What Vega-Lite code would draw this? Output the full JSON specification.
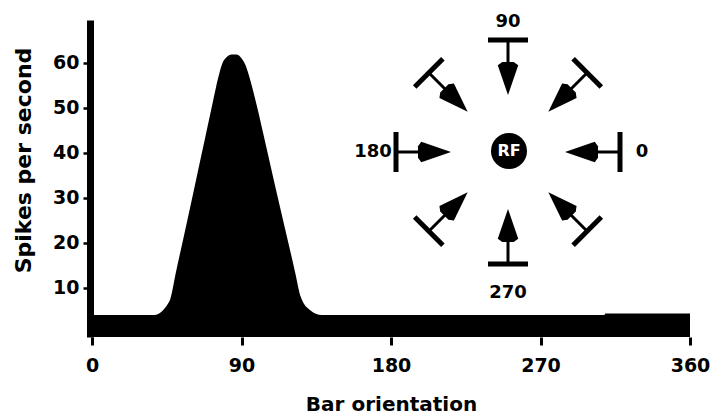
{
  "$schema": "https://vega.github.io/schema/vega-lite/v6.json",
  "width": 598,
  "height": 317,
  "autosize": {"type": "none"},
  "padding": {"left": 92, "top": 20, "right": 24, "bottom": 81},
  "background": "white",
  "config": {"view": {"stroke": null}, "font": "DejaVu Sans"},
  "datasets": {
    "curve": [
      {"deg": 0, "rate": 3.9}, {"deg": 37.9, "rate": 3.9}, {"deg": 42.9, "rate": 5.0},
      {"deg": 45.9, "rate": 6.5}, {"deg": 47, "rate": 7.3}, {"deg": 50.4, "rate": 13.2},
      {"deg": 54.8, "rate": 20.6}, {"deg": 59.2, "rate": 28}, {"deg": 63.5, "rate": 35.4},
      {"deg": 67.9, "rate": 42.9}, {"deg": 72.2, "rate": 50.3}, {"deg": 76.2, "rate": 57.0},
      {"deg": 78.5, "rate": 59.9}, {"deg": 81, "rate": 61.2}, {"deg": 84, "rate": 61.8},
      {"deg": 87, "rate": 61.8}, {"deg": 90, "rate": 61.0}, {"deg": 92.5, "rate": 59.4},
      {"deg": 95.1, "rate": 56.4},
      {"deg": 99.3, "rate": 50.3}, {"deg": 103.9, "rate": 42.9}, {"deg": 108.5, "rate": 35.4},
      {"deg": 113.1, "rate": 28}, {"deg": 117.8, "rate": 20.6}, {"deg": 122.4, "rate": 13.2},
      {"deg": 125.6, "rate": 8.0}, {"deg": 131.2, "rate": 5.0}, {"deg": 138.3, "rate": 3.9},
      {"deg": 308.5, "rate": 3.9}, {"deg": 309, "rate": 4.2}, {"deg": 360, "rate": 4.2}
    ],
    "arrows": [
      {"ori": 0, "bx1": 112, "by1": -20, "bx2": 112, "by2": 20, "bx": 112, "by": 0, "sx": 88, "sy": 0, "hx": 73.5, "hy": 0},
      {"ori": 45, "bx1": 65.1, "by1": 93.3, "bx2": 93.3, "by2": 65.1, "bx": 79.2, "by": 79.2, "sx": 62.2, "sy": 62.2, "hx": 52, "hy": 52},
      {"ori": 90, "bx1": -20, "by1": 112, "bx2": 20, "by2": 112, "bx": 0, "by": 112, "sx": 0, "sy": 88, "hx": 0, "hy": 73.5},
      {"ori": 135, "bx1": -93.3, "by1": 65.1, "bx2": -65.1, "by2": 93.3, "bx": -79.2, "by": 79.2, "sx": -62.2, "sy": 62.2, "hx": -52, "hy": 52},
      {"ori": 180, "bx1": -112, "by1": -20, "bx2": -112, "by2": 20, "bx": -112, "by": 0, "sx": -88, "sy": 0, "hx": -73.5, "hy": 0},
      {"ori": 225, "bx1": -65.1, "by1": -93.3, "bx2": -93.3, "by2": -65.1, "bx": -79.2, "by": -79.2, "sx": -62.2, "sy": -62.2, "hx": -52, "hy": -52},
      {"ori": 270, "bx1": -20, "by1": -112, "bx2": 20, "by2": -112, "bx": 0, "by": -112, "sx": 0, "sy": -88, "hx": 0, "hy": -73.5},
      {"ori": 315, "bx1": 93.3, "by1": -65.1, "bx2": 65.1, "by2": -93.3, "bx": 79.2, "by": -79.2, "sx": 62.2, "sy": -62.2, "hx": 52, "hy": -52}
    ],
    "labels": [
      {"text": "0", "u": 134, "v": 0},
      {"text": "90", "u": 0, "v": 130},
      {"text": "180", "u": -135, "v": 0},
      {"text": "270", "u": 0, "v": -141}
    ],
    "rf": [{"text": "RF", "u": 1, "v": 1}]
  },
  "layer": [
    {
      "data": {"name": "curve"},
      "mark": {"type": "area", "color": "black", "interpolate": "monotone"},
      "encoding": {
        "x": {
          "field": "deg", "type": "quantitative",
          "scale": {"domain": [0, 360], "nice": false, "zero": false},
          "axis": {
            "values": [0, 90, 180, 270, 360], "domain": false, "grid": false,
            "tickSize": 8, "tickWidth": 3, "tickColor": "black",
            "labelFont": "DejaVu Sans", "labelFontWeight": "bold", "labelFontSize": 19,
            "labelColor": "black", "labelPadding": 11, "labelFlush": false,
            "title": "Bar orientation", "titleFont": "DejaVu Sans", "titleFontWeight": "bold",
            "titleFontSize": 20, "titleColor": "black", "titleBaseline": "middle", "titleY": 67
          }
        },
        "y": {
          "field": "rate", "type": "quantitative",
          "scale": {"domain": [-1, 69.5], "nice": false, "zero": false},
          "axis": {
            "values": [10, 20, 30, 40, 50, 60], "grid": false, "offset": 2,
            "domain": true, "domainWidth": 7, "domainColor": "black",
            "tickSize": 7, "tickWidth": 2.5, "tickColor": "black",
            "labelFont": "DejaVu Sans", "labelFontWeight": "bold", "labelFontSize": 19,
            "labelColor": "black", "labelPadding": 4,
            "title": "Spikes per second", "titleFont": "DejaVu Sans", "titleFontWeight": "bold",
            "titleFontSize": 22, "titleColor": "black", "titleAngle": 270,
            "titleBaseline": "middle", "titleX": -67, "titleY": 140
          }
        },
        "y2": {"datum": -1}
      }
    },
    {
      "data": {"name": "arrows"},
      "layer": [
        {
          "mark": {"type": "rule", "strokeWidth": 5, "color": "black"},
          "encoding": {
            "x": {"field": "bx1", "type": "quantitative", "scale": {"domain": [-416, 182], "nice": false, "zero": false}, "axis": null},
            "y": {"field": "by1", "type": "quantitative", "scale": {"domain": [-185, 132], "nice": false, "zero": false}, "axis": null},
            "x2": {"field": "bx2"},
            "y2": {"field": "by2"}
          }
        },
        {
          "mark": {"type": "rule", "strokeWidth": 3, "color": "black"},
          "encoding": {
            "x": {"field": "bx", "type": "quantitative", "scale": {"domain": [-416, 182], "nice": false, "zero": false}, "axis": null},
            "y": {"field": "by", "type": "quantitative", "scale": {"domain": [-185, 132], "nice": false, "zero": false}, "axis": null},
            "x2": {"field": "sx"},
            "y2": {"field": "sy"}
          }
        },
        {
          "mark": {"type": "point", "filled": true, "color": "black", "opacity": 1, "size": 1090, "shape": "M0,-1L0.62,0.8L0.35,1L-0.35,1L-0.62,0.8Z"},
          "encoding": {
            "x": {"field": "hx", "type": "quantitative", "scale": {"domain": [-416, 182], "nice": false, "zero": false}, "axis": null},
            "y": {"field": "hy", "type": "quantitative", "scale": {"domain": [-185, 132], "nice": false, "zero": false}, "axis": null},
            "angle": {"field": "ori", "type": "quantitative", "scale": {"domain": [0, 360], "range": [270, -90]}, "legend": null}
          }
        }
      ]
    },
    {
      "data": {"name": "labels"},
      "mark": {"type": "text", "font": "DejaVu Sans", "fontWeight": "bold", "fontSize": 18, "color": "black", "align": "center", "baseline": "middle"},
      "encoding": {
        "x": {"field": "u", "type": "quantitative", "scale": {"domain": [-416, 182], "nice": false, "zero": false}, "axis": null},
        "y": {"field": "v", "type": "quantitative", "scale": {"domain": [-185, 132], "nice": false, "zero": false}, "axis": null},
        "text": {"field": "text"}
      }
    },
    {
      "data": {"name": "rf"},
      "layer": [
        {
          "mark": {"type": "point", "filled": true, "color": "black", "opacity": 1, "size": 1296, "shape": "circle"},
          "encoding": {
            "x": {"field": "u", "type": "quantitative", "scale": {"domain": [-416, 182], "nice": false, "zero": false}, "axis": null},
            "y": {"field": "v", "type": "quantitative", "scale": {"domain": [-185, 132], "nice": false, "zero": false}, "axis": null}
          }
        },
        {
          "mark": {"type": "text", "font": "DejaVu Sans", "fontWeight": "bold", "fontSize": 16, "color": "white", "align": "center", "baseline": "middle"},
          "encoding": {
            "x": {"field": "u", "type": "quantitative", "scale": {"domain": [-416, 182], "nice": false, "zero": false}, "axis": null},
            "y": {"field": "v", "type": "quantitative", "scale": {"domain": [-185, 132], "nice": false, "zero": false}, "axis": null},
            "text": {"field": "text"}
          }
        }
      ]
    }
  ],
  "resolve": {"scale": {"x": "independent", "y": "independent"}}
}
